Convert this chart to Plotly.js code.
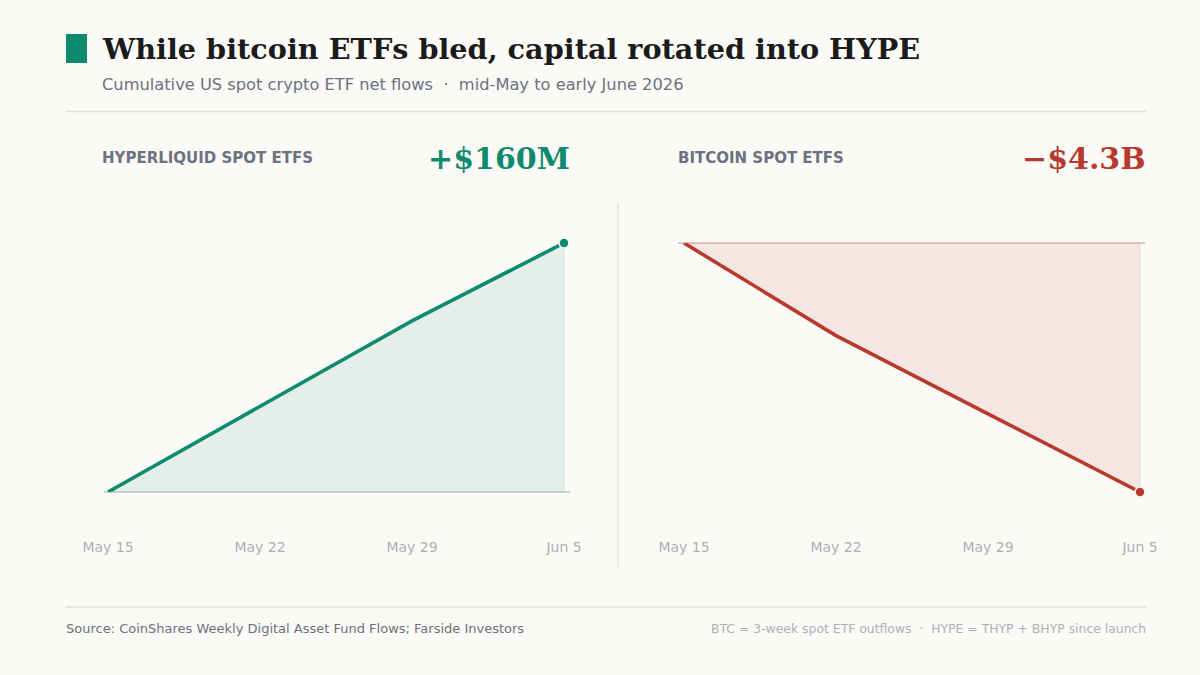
<!DOCTYPE html>
<html>
<head>
<meta charset="utf-8">
<script src="https://cdn.plot.ly/plotly-3.0.1.min.js"></script>
<style>
  html, body { margin: 0; padding: 0; background: #fbfaf7; }
  #chart { width: 1200px; height: 675px; }
</style>
</head>
<body>
<div id="chart"></div>
<script>
// ---- data ----
const dates = ['2026-05-15', '2026-05-22', '2026-05-29', '2026-06-05'];
const hypeFlows = [0, 55, 110, 160];          // $M cumulative, Hyperliquid spot ETFs
const btcFlows = [0, -1.6, -2.95, -4.3];      // $B cumulative, Bitcoin spot ETFs
const tickDates = ['2026-05-15', '2026-05-22', '2026-05-29', '2026-06-05'];
const tickText = ['May 15', 'May 22', 'May 29', 'Jun 5'];
const hypeTotalLabel = '+$160M';
const btcTotalLabel = '\u2212$4.3B';

// ---- styles ----
const GREEN = '#0e8a6e';
const RED = '#b8392d';
const BG = '#fbfaf7';
const W = 1200, H = 675;
const px = v => v / W;
const py = v => 1 - v / H;
const last = a => a[a.length - 1];

const traces = [
  { x: dates, y: hypeFlows, xaxis: 'x', yaxis: 'y', type: 'scatter', mode: 'lines',
    line: { color: GREEN, width: 3.6 }, fill: 'tozeroy', fillcolor: 'rgba(14,138,110,0.09)',
    cliponaxis: false, hoverinfo: 'skip' },
  { x: [last(dates), last(dates)], y: [0, last(hypeFlows)], xaxis: 'x', yaxis: 'y', type: 'scatter', mode: 'lines',
    line: { color: 'rgba(14,138,110,0.10)', width: 1.2 }, cliponaxis: false, hoverinfo: 'skip' },
  { x: [last(dates)], y: [last(hypeFlows)], xaxis: 'x', yaxis: 'y', type: 'scatter', mode: 'markers',
    marker: { color: GREEN, size: 10, line: { color: BG, width: 1.5 } }, cliponaxis: false, hoverinfo: 'skip' },

  { x: dates, y: btcFlows, xaxis: 'x2', yaxis: 'y2', type: 'scatter', mode: 'lines',
    line: { color: RED, width: 3.6 }, fill: 'tozeroy', fillcolor: 'rgba(184,57,45,0.10)',
    cliponaxis: false, hoverinfo: 'skip' },
  { x: [last(dates), last(dates)], y: [0, last(btcFlows)], xaxis: 'x2', yaxis: 'y2', type: 'scatter', mode: 'lines',
    line: { color: 'rgba(184,57,45,0.10)', width: 1.2 }, cliponaxis: false, hoverinfo: 'skip' },
  { x: [last(dates)], y: [last(btcFlows)], xaxis: 'x2', yaxis: 'y2', type: 'scatter', mode: 'markers',
    marker: { color: RED, size: 10, line: { color: BG, width: 1.5 } }, cliponaxis: false, hoverinfo: 'skip' }
];

const xCommon = {
  type: 'date', showgrid: false, zeroline: false, showline: false, ticks: '',
  tickmode: 'array', tickvals: tickDates, ticktext: tickText,
  tickfont: { family: 'DejaVu Sans', size: 14, color: '#aeb0b6' },
  ticklabelstandoff: 45, fixedrange: true
};
const yCommon = {
  showgrid: false, showticklabels: false, ticks: '', showline: false,
  zeroline: true, zerolinewidth: 1.5, fixedrange: true
};

const layout = {
  width: W, height: H,
  margin: { l: 0, r: 0, t: 0, b: 0, pad: 0 },
  paper_bgcolor: BG, plot_bgcolor: 'rgba(0,0,0,0)',
  showlegend: false,
  xaxis: Object.assign({}, xCommon, { domain: [px(104), px(570)], range: ['2026-05-14 19:35', '2026-06-05 06:38'], anchor: 'y' }),
  yaxis: Object.assign({}, yCommon, { domain: [1 - 492 / H, 1 - 243 / H], range: [0, 160], zerolinecolor: '#cbd3cf', anchor: 'x' }),
  xaxis2: Object.assign({}, xCommon, { domain: [px(678), px(1145)], range: ['2026-05-14 17:22', '2026-06-05 05:32'], anchor: 'y2' }),
  yaxis2: Object.assign({}, yCommon, { domain: [1 - 492 / H, 1 - 243 / H], range: [-4.3, 0], zerolinecolor: '#dcc6c2', anchor: 'x2' }),
  shapes: [
    { type: 'rect', xref: 'paper', yref: 'paper', x0: px(66), x1: px(87), y0: py(34), y1: py(63),
      fillcolor: GREEN, line: { width: 0 } },
    { type: 'line', xref: 'paper', yref: 'paper', x0: px(66), x1: px(1146), y0: py(111.5), y1: py(111.5),
      line: { color: '#e2dfda', width: 1.5 } },
    { type: 'line', xref: 'paper', yref: 'paper', x0: px(66), x1: px(1146), y0: py(607), y1: py(607),
      line: { color: '#e2dfda', width: 1.5 } },
    { type: 'line', xref: 'paper', yref: 'paper', x0: px(618), x1: px(618), y0: py(203), y1: py(567),
      line: { color: '#e6e3de', width: 1.5 } }
  ],
  annotations: [
    { text: '<b>While bitcoin ETFs bled, capital rotated into HYPE</b>', xref: 'paper', yref: 'paper',
      x: px(99.5), y: py(49), xanchor: 'left', yanchor: 'middle', showarrow: false,
      font: { family: 'DejaVu Serif', size: 28.7, color: '#1b1b1b' } },
    { text: 'Cumulative US spot crypto ETF net flows \u00a0·\u00a0 mid-May to early June 2026', xref: 'paper', yref: 'paper',
      x: px(99.5), y: py(85), xanchor: 'left', yanchor: 'middle', showarrow: false,
      font: { family: 'DejaVu Sans', size: 16.25, color: '#6b7280' } },
    { text: '<b>HYPERLIQUID SPOT ETFS</b>', xref: 'paper', yref: 'paper',
      x: px(99.5), y: py(158), xanchor: 'left', yanchor: 'middle', showarrow: false,
      font: { family: 'DejaVu Sans', size: 15, color: '#6b7280' } },
    { text: '<b>' + hypeTotalLabel + '</b>', xref: 'paper', yref: 'paper',
      x: px(572), y: py(158), xanchor: 'right', yanchor: 'middle', showarrow: false,
      font: { family: 'DejaVu Serif', size: 30, color: GREEN } },
    { text: '<b>BITCOIN SPOT ETFS</b>', xref: 'paper', yref: 'paper',
      x: px(675.5), y: py(158), xanchor: 'left', yanchor: 'middle', showarrow: false,
      font: { family: 'DejaVu Sans', size: 15, color: '#6b7280' } },
    { text: '<b>' + btcTotalLabel + '</b>', xref: 'paper', yref: 'paper',
      x: px(1148), y: py(158), xanchor: 'right', yanchor: 'middle', showarrow: false,
      font: { family: 'DejaVu Serif', size: 30, color: RED } },
    { text: 'Source: CoinShares Weekly Digital Asset Fund Flows; Farside Investors', xref: 'paper', yref: 'paper',
      x: px(64), y: py(628), xanchor: 'left', yanchor: 'middle', showarrow: false,
      font: { family: 'DejaVu Sans', size: 13, color: '#6b7280' } },
    { text: 'BTC = 3-week spot ETF outflows \u00a0·\u00a0 HYPE = THYP + BHYP since launch', xref: 'paper', yref: 'paper',
      x: px(1148), y: py(628), xanchor: 'right', yanchor: 'middle', showarrow: false,
      font: { family: 'DejaVu Sans', size: 12.4, color: '#aeb0b6' } }
  ]
};

Plotly.newPlot('chart', traces, layout, { displayModeBar: false, staticPlot: true });
</script>
</body>
</html>
